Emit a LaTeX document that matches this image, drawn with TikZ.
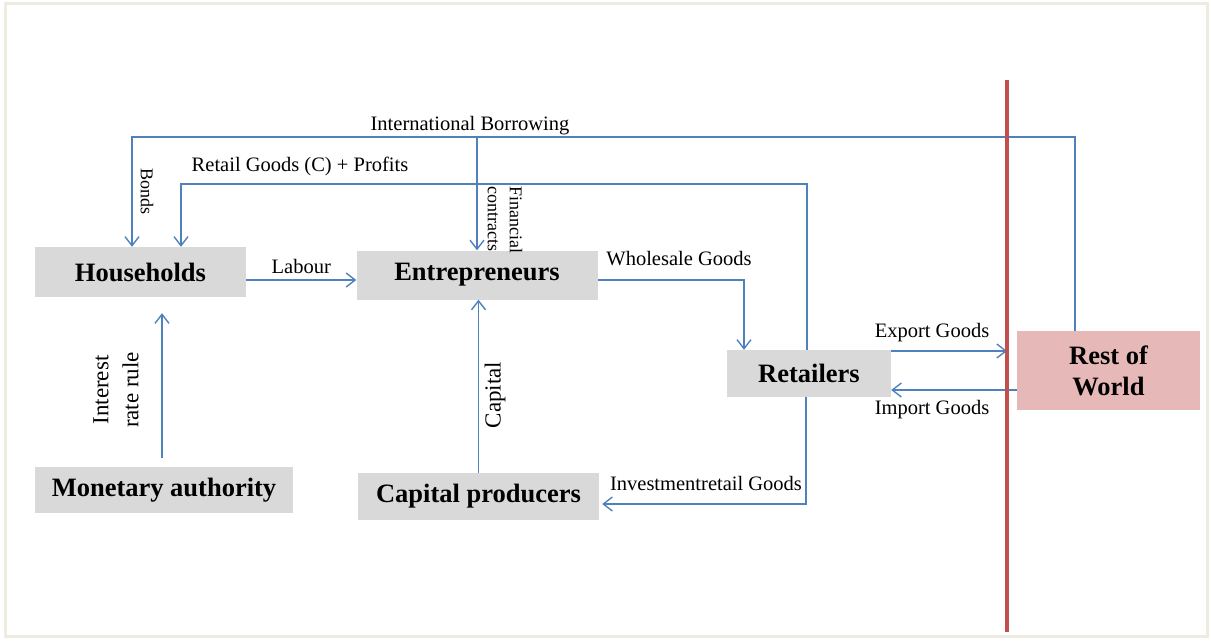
\documentclass[tikz,border=0pt]{standalone}
\usepackage{fontspec}
\setmainfont{Liberation Serif}
\usetikzlibrary{arrows.meta}
\definecolor{boxgray}{HTML}{D9D9D9}
\definecolor{rowpink}{HTML}{E6B9B8}
\definecolor{flowblue}{HTML}{4F81BD}
\definecolor{borderred}{HTML}{C0504D}
\definecolor{framebeige}{HTML}{EEECE1}
\begin{document}
\begin{tikzpicture}[x=1pt,y=-1pt,
        agent/.style={fill=boxgray,inner sep=0pt,font=\fontsize{26.5}{31}\selectfont\bfseries},
        flow/.style={draw=flowblue,line width=1.4pt,-{Straight Barb[length=9pt,width=14pt]}},
        lbl/.style={inner sep=0pt,font=\fontsize{20.5}{24}\selectfont},
        vlbl/.style={inner sep=0pt,font=\fontsize{18}{22}\selectfont,rotate=-90,align=left}]
                \useasboundingbox (0,0) rectangle (1211,641);
                \draw[framebeige,line width=3pt] (5,3) rectangle (1207,636);
                % sectors
                \node[agent,minimum width=211pt,minimum height=50pt] (hh) at (140.5,272) {Households};
                \node[agent,minimum width=241pt,minimum height=49pt] (ent) at (477,275) {Entrepreneurs};
                \node[agent,minimum width=164pt,minimum height=47pt] (ret) at (809,373.5) {Retailers};
                \node[agent,minimum width=183pt,minimum height=79pt,fill=rowpink,align=center] (row) at (1108.5,370.5) {Rest of\\World};
                \node[agent,minimum width=258pt,minimum height=46pt] (ma) at (164,490) {Monetary authority};
                \node[agent,minimum width=241pt,minimum height=47pt] (cp) at (478.5,496.5) {Capital producers};
                % bends
                \coordinate (ib) at (1075,137);
                \coordinate (rg) at (807,184);
                \coordinate (bondsin) at ([xshift=-8.5pt]hh.north);
                \coordinate (retin) at ([xshift=40.5pt]hh.north);
                \coordinate (lab) at (300,280);
                \coordinate (ws) at (744,280);
                \coordinate (exp) at (1007,351);
                \coordinate (imp) at (0,390);
                \coordinate (inv) at (806,504);
                \coordinate (irr) at (162,0);
                % flows
                \draw[flow] (row.north -| ib) -- (ib) -| (bondsin);
                \draw[flow] (ent.north |- ib) -- (ent.north);
                \draw[flow] (ret.north -| rg) -- (rg) -| (retin);
                \draw[flow] (hh.east |- lab) -- (ent.west |- lab) node[lbl,midway,above=6pt] {Labour};
                \draw[flow] (ent.east |- ws) -- (ws) -- (ws |- ret.north);
                \draw[flow] (ret.east |- exp) -- (exp);
                \draw[flow] (row.west |- imp) -- (ret.east |- imp);
                \draw[flow] (ret.south -| inv) -- (inv) -- ([xshift=3pt]inv -| cp.east);
                \draw[flow] (cp.north) -- (cp.north |- ent.south);
                \draw[flow,shorten <=9pt,shorten >=16pt] (ma.north -| irr) -- (hh.south -| irr);
                % labels
                \node[lbl,anchor=base] (iblbl) at (470,130) {International Borrowing};
                \node[lbl,anchor=base] (rglbl) at (300,171) {Retail Goods (C) + Profits};
                \node[lbl,anchor=base] (wslbl) at (679,265) {Wholesale Goods};
                \node[lbl,anchor=base] (explbl) at (932,337) {Export Goods};
                \node[lbl,anchor=base] (implbl) at (932,414) {Import Goods};
                \node[lbl,anchor=base] (invlbl) at (706,490) {Investmentretail Goods};
                \node[vlbl] (bondslbl) at (147,191) {Bonds};
                \node[vlbl] (finlbl) at (505,220) {Financial\\contracts};
                \node[inner sep=0pt,font=\fontsize{23}{30}\selectfont,rotate=90,align=center] (irrlbl) at (116,390) {Interest\\rate rule};
                \node[inner sep=0pt,font=\fontsize{23}{30}\selectfont,rotate=90] (caplbl) at (495,395) {Capital};
                \draw[borderred,line width=4pt] (1007,80) -- (1007,632);
            \end{tikzpicture}
\end{document}
